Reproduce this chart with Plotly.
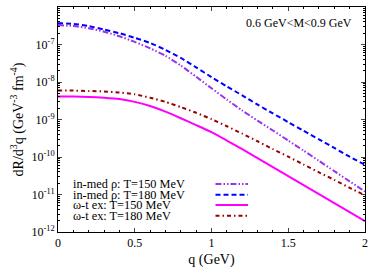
import plotly.graph_objects as go

q = [0.0, 0.1, 0.2, 0.3, 0.4, 0.5, 0.6, 0.7, 0.8, 0.9, 1.0,
     1.1, 1.2, 1.3, 1.4, 1.5, 1.6, 1.7, 1.8, 1.9, 2.0]

rho_150 = [3.3e-7, 3.1e-7, 2.7e-7, 2.2e-7, 1.66e-7, 1.17e-7, 7.9e-8, 5.0e-8, 2.75e-8, 1.38e-8, 6.8e-9,
           3.4e-9, 1.74e-9, 9.3e-10, 5.1e-10, 2.75e-10, 1.48e-10, 7.9e-11, 4.2e-11, 2.24e-11, 1.2e-11]
rho_180 = [3.7e-7, 3.55e-7, 3.1e-7, 2.5e-7, 2.0e-7, 1.51e-7, 1.10e-7, 7.2e-8, 4.4e-8, 2.45e-8, 1.35e-8,
           7.6e-9, 4.4e-9, 2.5e-9, 1.45e-9, 8.5e-10, 5.0e-10, 2.95e-10, 1.74e-10, 1.02e-10, 6.2e-11]
omt_150 = [4.1e-9, 4.1e-9, 4.0e-9, 3.8e-9, 3.5e-9, 2.95e-9, 2.3e-9, 1.62e-9, 1.08e-9, 7.1e-10, 4.6e-10,
           2.75e-10, 1.62e-10, 9.3e-11, 5.4e-11, 3.1e-11, 1.78e-11, 1.02e-11, 5.9e-12, 3.4e-12, 1.95e-12]
omt_180 = [5.9e-9, 5.9e-9, 5.75e-9, 5.6e-9, 5.25e-9, 4.7e-9, 3.8e-9, 2.95e-9, 2.14e-9, 1.51e-9, 1.02e-9,
           6.6e-10, 4.2e-10, 2.63e-10, 1.62e-10, 1.02e-10, 6.3e-11, 3.9e-11, 2.45e-11, 1.51e-11, 9.5e-12]

names = ["in-med ρ: T=150 MeV", "in-med ρ: T=180 MeV", "ω-t ex: T=150 MeV", "ω-t ex: T=180 MeV"]
series = [rho_150, rho_180, omt_150, omt_180]
colors = ["#9933ee", "#0000ff", "#ff00ff", "#990000"]
dashes = ["6px,2px,1.5px,2px,1.5px,2px", "5px,3px", "solid", "4px,3px,1.5px,3px"]

xticks = [0, 0.5, 1, 1.5, 2]
xticktext = ["0", "0.5", "1", "1.5", "2"]
yticks = [1e-12, 1e-11, 1e-10, 1e-9, 1e-8, 1e-7, 1e-6]
yticktext = ["10<sup>-12</sup>", "10<sup>-11</sup>", "10<sup>-10</sup>", "10<sup>-9</sup>",
             "10<sup>-8</sup>", "10<sup>-7</sup>", "10<sup>-6</sup>"]

FONT = "Liberation Serif"

fig = go.Figure()
for name, ys, c, d in zip(names, series, colors, dashes):
    fig.add_trace(go.Scatter(x=q, y=ys, mode="lines", name=name,
                             line=dict(color=c, width=2, dash=d, shape="spline", smoothing=0.6),
                             showlegend=False))

# manual legend (text left, sample right)
leg_y = [0.213, 0.166, 0.12, 0.072]
for name, c, d, yy in zip(names, colors, dashes, leg_y):
    fig.add_annotation(xref="paper", yref="paper", x=0.045, y=yy, text=name, showarrow=False,
                       xanchor="left", yanchor="middle", borderpad=0,
                       font=dict(family=FONT, size=12.3, color="black"))
    fig.add_shape(type="line", xref="paper", yref="paper", x0=0.513, x1=0.619, y0=yy, y1=yy,
                  line=dict(color=c, width=2, dash=d))

fig.add_annotation(xref="paper", yref="paper", x=0.9635, y=0.929, text="0.6 GeV&lt;M&lt;0.9 GeV",
                   showarrow=False, xanchor="right", yanchor="middle",
                   font=dict(family=FONT, size=12, color="black"))

fig.update_layout(
    width=374, height=270,
    margin=dict(l=58, r=6, t=7, b=38),
    paper_bgcolor="white", plot_bgcolor="white",
    font=dict(family=FONT, size=12, color="black"),
    xaxis=dict(range=[0, 2], tickvals=xticks, ticktext=xticktext, ticks="inside", ticklen=4,
               showline=True, linecolor="black", linewidth=1, mirror="ticks", showgrid=False,
               zeroline=False, title=dict(text="q (GeV)", standoff=4),
               minor=dict(ticks="inside", dtick=0.1, ticklen=2, tickcolor="black", showgrid=False)),
    yaxis=dict(type="log", range=[-12, -6], tickvals=yticks, ticktext=yticktext, ticks="inside",
               ticklen=4, showline=True, linecolor="black", linewidth=1, mirror="ticks",
               showgrid=False, zeroline=False, ticklabelstandoff=0,
               title=dict(text="dR/d<sup>3</sup>q (GeV<sup>-3</sup> fm<sup>-4</sup>)", standoff=4),
               minor=dict(ticks="inside", dtick="D1", ticklen=2, tickcolor="black", showgrid=False)),
)

fig.write_html("out.html", config={"displayModeBar": False},
               post_script="document.body.style.margin='0px';document.body.style.overflow='hidden';")
